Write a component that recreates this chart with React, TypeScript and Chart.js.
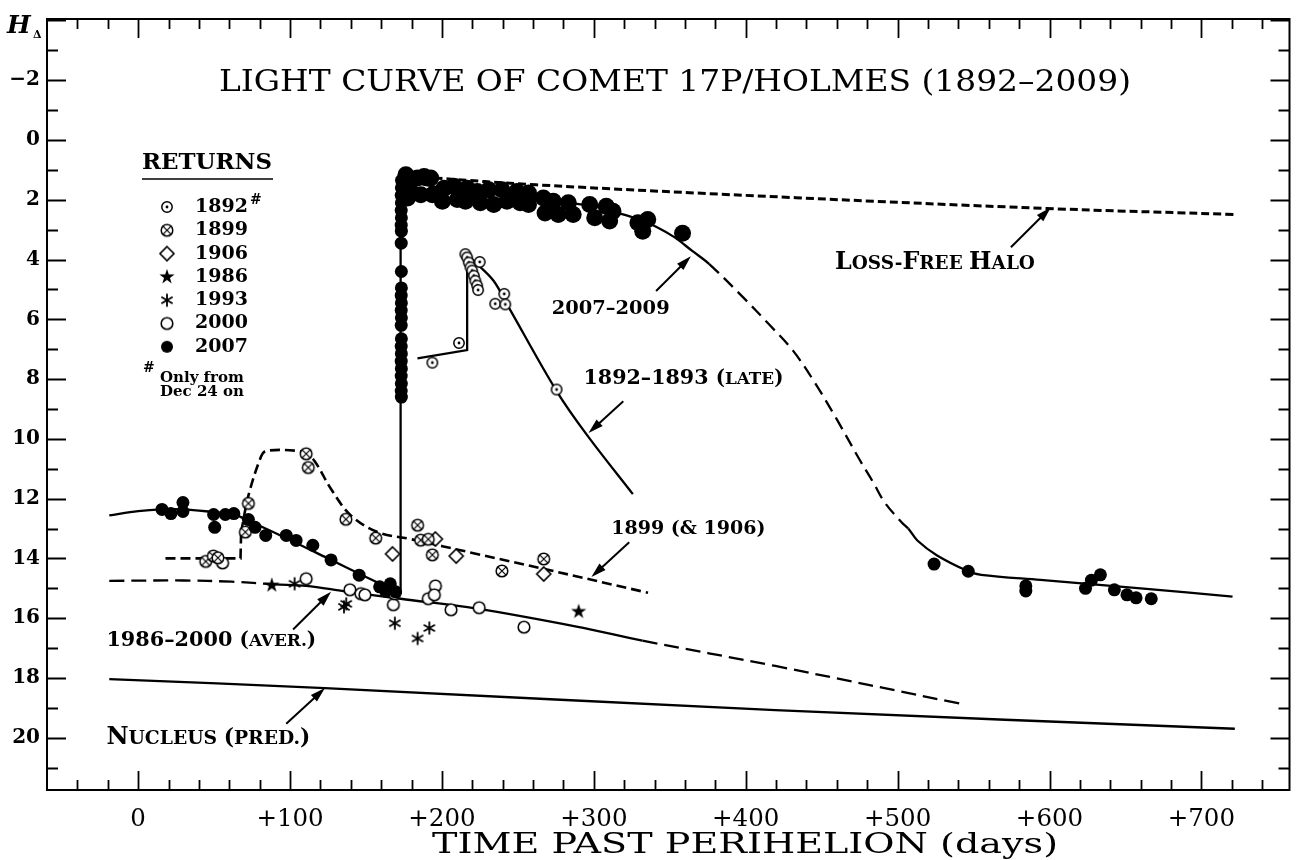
import React, { useEffect, useRef } from 'react';
import { Chart, registerables } from 'chart.js';

Chart.register(...registerables);

// ---------------- axes ----------------
const X_MIN = -60;
const X_MAX = 758;
const Y_MIN = -4.05;
const Y_MAX = 21.75;
const X_TICK_VALUES = [0, 100, 200, 300, 400, 500, 600, 700];
const X_TICK_LABELS = ['0', '+100', '+200', '+300', '+400', '+500', '+600', '+700'];
const Y_TICK_VALUES = [-2, 0, 2, 4, 6, 8, 10, 12, 14, 16, 18, 20];
const Y_TICK_LABELS = ['−2', '0', '2', '4', '6', '8', '10', '12', '14', '16', '18', '20'];

const TITLE = 'LIGHT CURVE OF COMET 17P/HOLMES (1892–2009)';
const X_TITLE = 'TIME PAST PERIHELION (days)';

// ---------------- observations [days past perihelion, H_delta] ----------------
const obs1892 = [
  [193.7, 7.45], [211.2, 6.79], [215.4, 3.82], [216.6, 3.93], [217.7, 4.1], [218.8, 4.26],
  [219.9, 4.37], [221, 4.54], [222, 4.71], [223.2, 4.87], [223.8, 5.02], [224.9, 4.08],
  [235.1, 5.48], [241, 5.15], [241.7, 5.5], [275.5, 8.35],
];
const obs1899 = [
  [44.5, 14.1], [49.5, 13.92], [52.5, 13.98], [70.6, 13.12], [72.6, 12.16], [110.6, 10.5],
  [112, 10.96], [136.8, 12.69], [156.4, 13.32], [184, 12.89], [186, 13.39], [191, 13.36],
  [193.7, 13.88], [239.5, 14.42], [267, 14.02],
];
const obs1906 = [[167.5, 13.85], [195.7, 13.35], [209.4, 13.92], [267, 14.52]];
const obs1986 = [[88, 14.9], [290, 15.78]];
const obs1993 = [[103, 14.85], [135.5, 15.62], [137, 15.52], [169, 16.17], [184, 16.68], [191.7, 16.33]];
const obs2000 = [
  [55.6, 14.15], [110.6, 14.68], [139.4, 15.05], [146.6, 15.18], [149.3, 15.22], [168, 15.55],
  [168.8, 15.18], [191, 15.35], [195.7, 14.92], [195, 15.22], [206, 15.72], [224.5, 15.65], [254, 16.3],
];
const obs2007Before = [
  [15.7, 12.36], [21.6, 12.5], [29.5, 12.43], [29.5, 12.13], [49.7, 12.53], [50.4, 12.96],
  [57.4, 12.53], [63, 12.5], [72.6, 12.7], [77, 12.96], [84, 13.23], [97.5, 13.23], [104, 13.4],
  [115, 13.56], [127, 14.05], [145.5, 14.56], [159, 14.95], [163, 15.1], [166, 14.85], [169.5, 15.12],
];
const obs2007Rise = [
  [173.3, 8.6], [173.2, 8.4], [173.3, 8.15], [173.2, 7.9], [173.3, 7.65], [173.2, 7.4],
  [173.3, 7.15], [173.2, 6.9], [173.3, 6.65], [173.2, 6.2], [173.3, 5.95], [173.2, 5.7],
  [173.3, 5.45], [173.2, 5.2], [173.3, 4.95], [173.3, 4.4], [173.2, 3.45], [173.3, 3.05],
  [173.2, 2.85], [173.3, 2.6], [173.2, 2.35], [173.3, 2.1], [173.2, 1.85], [173.3, 1.6], [173.4, 1.35],
];
const obs2007Plateau = [
  [176.3, 1.16], [178.4, 1.5], [177.4, 1.94], [183.9, 1.27], [188.3, 1.22], [192.6, 1.27],
  [186.1, 1.83], [193.7, 1.83], [201.4, 1.61], [200.3, 2.05], [207.9, 1.55], [210.1, 1.99],
  [216.6, 1.61], [215.5, 2.05], [223.2, 1.72], [225.3, 2.1], [230.8, 1.66], [234.1, 2.16],
  [239.5, 1.66], [242.8, 2.05], [249.3, 1.72], [251.5, 2.1], [257, 1.77], [257, 2.16],
  [266.8, 1.94], [267.9, 2.44], [273.3, 2.05], [276.6, 2.49], [283.2, 2.1], [286.4, 2.49],
  [297.3, 2.16], [300.6, 2.6], [308.2, 2.22], [310.4, 2.71], [312.6, 2.38], [329, 2.77],
  [335.5, 2.66], [332.2, 3.05], [358.4, 3.12],
];
const obs2007Late = [
  [524, 14.19], [546.5, 14.43], [584.4, 14.92], [584.4, 15.09], [623.7, 15.0], [627.6, 14.73],
  [633.5, 14.55], [642.7, 15.05], [651, 15.22], [657, 15.32], [667, 15.35],
];

// ---------------- model curves ----------------
const curve2007Before = [
  [-19, 12.56], [0, 12.42], [15, 12.36], [30, 12.36], [50, 12.45], [63, 12.52], [70.5, 12.69],
  [92, 13.19], [125, 14.0], [150, 14.62], [172.8, 15.18],
];
const curve2007Jump = [[172.8, 15.18], [172.8, 1.2]];
const curve2007After = [
  [172.8, 1.2], [185, 1.45], [200, 1.6], [225, 1.75], [250, 1.9], [275, 2.05], [300, 2.22],
  [315, 2.43], [330, 2.66], [341, 2.9], [353, 3.25], [365, 3.72], [376, 4.15], [398, 5.25],
  [415, 6.15], [431, 7.04], [445, 8.08], [460, 9.35], [475, 10.7], [484, 11.46], [491.5, 12.13],
  [502.6, 12.79], [507, 13.0], [513, 13.4], [526, 13.9], [546.5, 14.43], [555, 14.55],
  [594, 14.72], [660, 15.0], [720.5, 15.28],
];
const DASH_2007 = [376, 507];
const curve1892Early = [[183.9, 7.31], [216.6, 7.03], [216.6, 3.85]];
const curve1892Late = [
  [216.6, 3.85], [223.2, 4.15], [234, 4.71], [243.9, 5.59], [275.5, 8.4], [295.2, 9.85], [325.7, 11.85],
];
const curve1899Early = [[18, 14.0], [67.4, 14.0], [67.8, 13.12]];
const curve1899Late = [
  [67.8, 13.12], [72.6, 11.9], [81, 10.58], [84.4, 10.4], [105, 10.4], [110, 10.5], [116, 10.73],
  [127, 11.68], [140, 12.56], [157.7, 13.12], [179, 13.35], [223, 13.85], [267, 14.35], [335.7, 15.15],
];
const curveAverage = [
  [-19, 14.75], [30, 14.74], [61.5, 14.78], [90, 14.87], [110.6, 14.92], [136, 15.1],
  [172.8, 15.35], [223, 15.68], [288.6, 16.28], [332, 16.75], [419.5, 17.6], [542, 18.87],
];
const DASH_AVERAGE = [90, 332];
const curveNucleus = [[-19, 18.04], [123, 18.34], [419.5, 19.08], [722, 19.7]];
const curveHalo = [[195, 1.27], [262, 1.5], [433, 1.93], [598, 2.29], [722, 2.49]];

// ---------------- annotations (data coordinates) ----------------
type Seg = [string, number];
const LABELS: { segs: Seg[]; day: number; mag: number; width?: number }[] = [
  { segs: [['2007–2009', 19]], day: 272.3, mag: 5.58, width: 118 },
  { segs: [['1892–1893 ', 19], ['(', 18], ['LATE', 15.5], [')', 18]], day: 293.2, mag: 7.91, width: 200 },
  { segs: [['1899 (& 1906)', 19]], day: 311.5, mag: 12.96 },
  { segs: [['1986–2000 ', 19], ['(', 18], ['AVER.', 15.5], [')', 18]], day: -20.9, mag: 16.68, width: 210 },
  { segs: [['N', 20], ['UCLEUS ', 15.5], ['(', 18], ['PRED.', 15.5], [')', 18]], day: -20.9, mag: 19.93, width: 204 },
  { segs: [['L', 20], ['OSS-', 15.5], ['F', 20], ['REE ', 15.5], ['H', 20], ['ALO', 15.5]], day: 458.8, mag: 4.05, width: 200 },
];
const ARROWS = [
  [341, 5.05, 363.9, 3.89],
  [319.4, 8.74, 296.5, 9.8],
  [323.3, 13.46, 298.4, 14.62],
  [102, 16.38, 127, 15.12],
  [97.5, 19.53, 123, 18.34],
  [574.6, 3.59, 600.8, 2.26],
];
const LEGEND_TITLE = 'RETURNS';
const LEGEND_YEARS = ['1892', '1899', '1906', '1986', '1993', '2000', '2007'];
const LEGEND_SYMBOLS = ['dotCircle', 'crossCircle', 'diamond', 'star5', 'asterisk', 'openCircle', 'dot'];

const SERIF = '"DejaVu Serif", serif';
const BOLD = '"DejaVu Serif", serif';

function makeSymbol(kind: string): HTMLCanvasElement {
  const s = 20;
  const c = document.createElement('canvas');
  c.width = s;
  c.height = s;
  const g = c.getContext('2d')!;
  const m = s / 2;
  g.strokeStyle = '#000';
  g.fillStyle = '#fff';
  g.lineWidth = 1.5;
  const circle = (r: number) => {
    g.beginPath();
    g.arc(m, m, r, 0, Math.PI * 2);
    g.fill();
    g.stroke();
  };
  if (kind === 'dotCircle') {
    circle(5.2);
    g.fillStyle = '#000';
    g.beginPath();
    g.arc(m, m, 1.4, 0, Math.PI * 2);
    g.fill();
  } else if (kind === 'crossCircle') {
    circle(5.8);
    const d = 5.8 * 0.7071;
    g.beginPath();
    g.moveTo(m - d, m - d);
    g.lineTo(m + d, m + d);
    g.moveTo(m + d, m - d);
    g.lineTo(m - d, m + d);
    g.lineWidth = 1.2;
    g.stroke();
  } else if (kind === 'diamond') {
    g.lineWidth = 1.6;
    g.beginPath();
    g.moveTo(m, m - 7);
    g.lineTo(m + 7, m);
    g.lineTo(m, m + 7);
    g.lineTo(m - 7, m);
    g.closePath();
    g.fill();
    g.stroke();
  } else if (kind === 'star5') {
    g.fillStyle = '#000';
    g.beginPath();
    for (let i = 0; i < 10; i++) {
      const r = i % 2 === 0 ? 8 : 3.1;
      const a = -Math.PI / 2 + (i * Math.PI) / 5;
      const px = m + r * Math.cos(a);
      const py = m + r * Math.sin(a);
      if (i === 0) g.moveTo(px, py);
      else g.lineTo(px, py);
    }
    g.closePath();
    g.fill();
  } else if (kind === 'asterisk') {
    g.lineWidth = 1.8;
    g.beginPath();
    for (let i = 0; i < 3; i++) {
      const a = -Math.PI / 2 + (i * Math.PI) / 3;
      g.moveTo(m + 6.5 * Math.cos(a), m + 6.5 * Math.sin(a));
      g.lineTo(m - 6.5 * Math.cos(a), m - 6.5 * Math.sin(a));
    }
    g.stroke();
  } else if (kind === 'openCircle') {
    g.lineWidth = 1.6;
    circle(5.8);
  } else if (kind === 'dot') {
    g.fillStyle = '#000';
    g.beginPath();
    g.arc(m, m, 6, 0, Math.PI * 2);
    g.fill();
  }
  return c;
}

const pts = (pairs: number[][]) => pairs.map(([x, y]) => ({ x, y }));

function drawSegs(ctx: CanvasRenderingContext2D, segs: Seg[], x: number, yMid: number, width?: number) {
  let k = 1;
  if (width) {
    let w = 0;
    for (const [t, size] of segs) {
      ctx.font = `bold ${size}px ${BOLD}`;
      w += ctx.measureText(t).width;
    }
    k = width / w;
  }
  let cx = x;
  ctx.textAlign = 'left';
  ctx.textBaseline = 'alphabetic';
  const base = yMid + 7 * k;
  for (const [t, size] of segs) {
    ctx.font = `bold ${size * k}px ${BOLD}`;
    ctx.fillText(t, cx, base);
    cx += ctx.measureText(t).width;
  }
}

function drawArrow(ctx: CanvasRenderingContext2D, x1: number, y1: number, x2: number, y2: number) {
  const ang = Math.atan2(y2 - y1, x2 - x1);
  const hl = 15;
  const hw = 4.5;
  const bx = x2 - hl * Math.cos(ang);
  const by = y2 - hl * Math.sin(ang);
  ctx.lineWidth = 2;
  ctx.setLineDash([]);
  ctx.beginPath();
  ctx.moveTo(x1, y1);
  ctx.lineTo(bx + 2 * Math.cos(ang), by + 2 * Math.sin(ang));
  ctx.stroke();
  ctx.beginPath();
  ctx.moveTo(x2, y2);
  ctx.lineTo(bx + hw * Math.sin(ang), by - hw * Math.cos(ang));
  ctx.lineTo(bx - hw * Math.sin(ang), by + hw * Math.cos(ang));
  ctx.closePath();
  ctx.fill();
}

function drawWide(ctx: CanvasRenderingContext2D, text: string, font: string, cx: number, baseline: number, width: number) {
  ctx.font = font;
  const sx = width / ctx.measureText(text).width;
  ctx.save();
  ctx.translate(cx, baseline);
  ctx.scale(sx, 1);
  ctx.textAlign = 'center';
  ctx.textBaseline = 'alphabetic';
  ctx.fillText(text, 0, 0);
  ctx.restore();
}

export default function App() {
  const ref = useRef<HTMLCanvasElement>(null);

  useEffect(() => {
    const canvas = ref.current;
    if (!canvas) return;
    const SYM: Record<string, HTMLCanvasElement> = {};
    for (const k of LEGEND_SYMBOLS) SYM[k] = makeSymbol(k);

    const pointSet = (data: number[][], style: any, r = 6) => ({
      data: pts(data),
      showLine: false,
      pointStyle: style,
      pointRadius: r,
      pointBackgroundColor: '#000',
      pointBorderColor: '#000',
      pointBorderWidth: 0,
    });
    const lineSet = (data: number[][], extra: any = {}) => ({
      data: pts(data),
      showLine: true,
      pointRadius: 0,
      borderColor: '#000',
      borderWidth: 2.3,
      tension: 0.35,
      fill: false,
      ...extra,
    });

    const decor = {
      id: 'decor',
      afterDraw(chart: any) {
        const { ctx, chartArea: a, scales } = chart;
        const xs = scales.x;
        const ys = scales.y;
        const X = (v: number) => xs.getPixelForValue(v);
        const Y = (v: number) => ys.getPixelForValue(v);
        ctx.save();
        ctx.strokeStyle = '#000';
        ctx.fillStyle = '#000';
        ctx.setLineDash([]);
        // frame
        ctx.lineWidth = 2;
        ctx.strokeRect(a.left, a.top, a.right - a.left, a.bottom - a.top);
        // tick marks (inside)
        ctx.lineWidth = 1.8;
        ctx.beginPath();
        for (let v = X_MIN + 20; v < X_MAX; v += 20) {
          const px = Math.round(X(v)) + 0.5;
          const len = v % 100 === 0 ? 19 : 10;
          ctx.moveTo(px, a.bottom);
          ctx.lineTo(px, a.bottom - len);
          ctx.moveTo(px, a.top);
          ctx.lineTo(px, a.top + len);
        }
        for (let v = Math.ceil(Y_MIN); v < Y_MAX; v += 1) {
          const py = Math.round(Y(v)) + 0.5;
          const len = v % 2 === 0 ? 19 : 11;
          ctx.moveTo(a.left, py);
          ctx.lineTo(a.left + len, py);
          ctx.moveTo(a.right, py);
          ctx.lineTo(a.right - len, py);
        }
        ctx.stroke();

        // y-axis symbol
        ctx.textAlign = 'left';
        ctx.textBaseline = 'alphabetic';
        ctx.font = `bold italic 25px ${BOLD}`;
        ctx.fillText('H', 7, 33);
        ctx.font = `bold 11px ${BOLD}`;
        ctx.fillText('Δ', 33, 38);

        // titles
        drawWide(ctx, TITLE, `normal 29px ${SERIF}`, 675, 91, 912);
        drawWide(ctx, X_TITLE, `normal 27px ${SERIF}`, 745, 853, 626);

        // labels and arrows
        for (const l of LABELS) drawSegs(ctx, l.segs, X(l.day), Y(l.mag), l.width);
        for (const [d1, m1, d2, m2] of ARROWS) drawArrow(ctx, X(d1), Y(m1), X(d2), Y(m2));

        // legend
        drawSegs(ctx, [[LEGEND_TITLE, 20]], 142, 161, 130);
        ctx.lineWidth = 1.6;
        ctx.beginPath();
        ctx.moveTo(142, 179);
        ctx.lineTo(273, 179);
        ctx.stroke();
        LEGEND_YEARS.forEach((yr, i) => {
          const yy = 207 + i * 23.3;
          const sym = SYM[LEGEND_SYMBOLS[i]];
          ctx.drawImage(sym, 167 - sym.width / 2, yy - sym.height / 2);
          ctx.font = `bold 19px ${BOLD}`;
          ctx.textAlign = 'left';
          ctx.textBaseline = 'middle';
          ctx.fillText(yr, 195, yy);
          if (i === 0) {
            const w = ctx.measureText(yr).width;
            ctx.font = `bold 14px ${BOLD}`;
            ctx.fillText('#', 195 + w + 2, yy - 7);
          }
        });
        ctx.textBaseline = 'middle';
        ctx.font = `bold 14px ${BOLD}`;
        ctx.fillText('#', 143, 368);
        ctx.font = `bold 15px ${BOLD}`;
        ctx.fillText('Only from', 160, 378);
        ctx.fillText('Dec 24 on', 160, 392);
        ctx.restore();
      },
    };

    const chart = new Chart(canvas, {
      type: 'scatter',
      data: {
        datasets: [
          pointSet(obs2007Before, 'circle', 6.5),
          pointSet(obs2007Rise, 'circle', 6.5),
          pointSet(obs2007Plateau, 'circle', 8.5),
          pointSet(obs2007Late, 'circle', 6.5),
          pointSet(obs1892, SYM.dotCircle),
          pointSet(obs1899, SYM.crossCircle),
          pointSet(obs1906, SYM.diamond),
          pointSet(obs2000, SYM.openCircle),
          pointSet(obs1986, SYM.star5),
          pointSet(obs1993, SYM.asterisk),
          lineSet(curveHalo, { borderWidth: 3, borderDash: [8, 4] }),
          lineSet(curve2007Before),
          lineSet(curve2007Jump, { tension: 0 }),
          lineSet(curve2007After, {
            segment: {
              borderDash: (c: any) =>
                c.p0.parsed.x >= DASH_2007[0] && c.p1.parsed.x <= DASH_2007[1] ? [13, 7] : undefined,
            },
          }),
          lineSet(curve1892Early, { tension: 0 }),
          lineSet(curve1892Late),
          lineSet(curve1899Early, { tension: 0, borderWidth: 2.6, borderDash: [10, 5] }),
          lineSet(curve1899Late, { borderWidth: 2.6, borderDash: [10, 5] }),
          lineSet(curveAverage, {
            segment: {
              borderDash: (c: any) =>
                c.p1.parsed.x <= DASH_AVERAGE[0] || c.p0.parsed.x >= DASH_AVERAGE[1] ? [15, 7] : undefined,
            },
          }),
          lineSet(curveNucleus),
        ] as any,
      },
      options: {
        responsive: false,
        devicePixelRatio: 1,
        animation: false,
        events: [],
        layout: { padding: { top: 13, right: 1, left: 0, bottom: 0 } },
        plugins: { legend: { display: false }, tooltip: { enabled: false }, title: { display: false } },
        scales: {
          x: {
            type: 'linear',
            min: X_MIN,
            max: X_MAX,
            grid: { display: false, drawTicks: false },
            border: { display: false },
            afterBuildTicks: (s: any) => {
              s.ticks = X_TICK_VALUES.map((v) => ({ value: v }));
            },
            afterFit: (s: any) => {
              s.height = 70;
            },
            ticks: {
              autoSkip: false,
              maxRotation: 0,
              padding: 15,
              color: '#000',
              font: { family: SERIF, size: 24.5 },
              callback: (_v: any, i: number) => X_TICK_LABELS[i],
            },
          },
          y: {
            type: 'linear',
            reverse: true,
            min: Y_MIN,
            max: Y_MAX,
            grid: { display: false, drawTicks: false },
            border: { display: false },
            afterBuildTicks: (s: any) => {
              s.ticks = Y_TICK_VALUES.map((v) => ({ value: v }));
            },
            afterFit: (s: any) => {
              s.width = 47;
            },
            ticks: {
              autoSkip: false,
              padding: 7,
              color: '#000',
              font: { family: BOLD, size: 20, weight: 'bold' },
              callback: (_v: any, i: number) => Y_TICK_LABELS[i],
            },
          },
        },
      } as any,
      plugins: [decor],
    });
    return () => chart.destroy();
  }, []);

  return (
    <div style={{ position: 'fixed', left: 0, top: 0, width: 1298, height: 860, background: '#fff' }}>
      <canvas ref={ref} width={1298} height={860} style={{ width: 1298, height: 860, display: 'block' }} />
    </div>
  );
}
